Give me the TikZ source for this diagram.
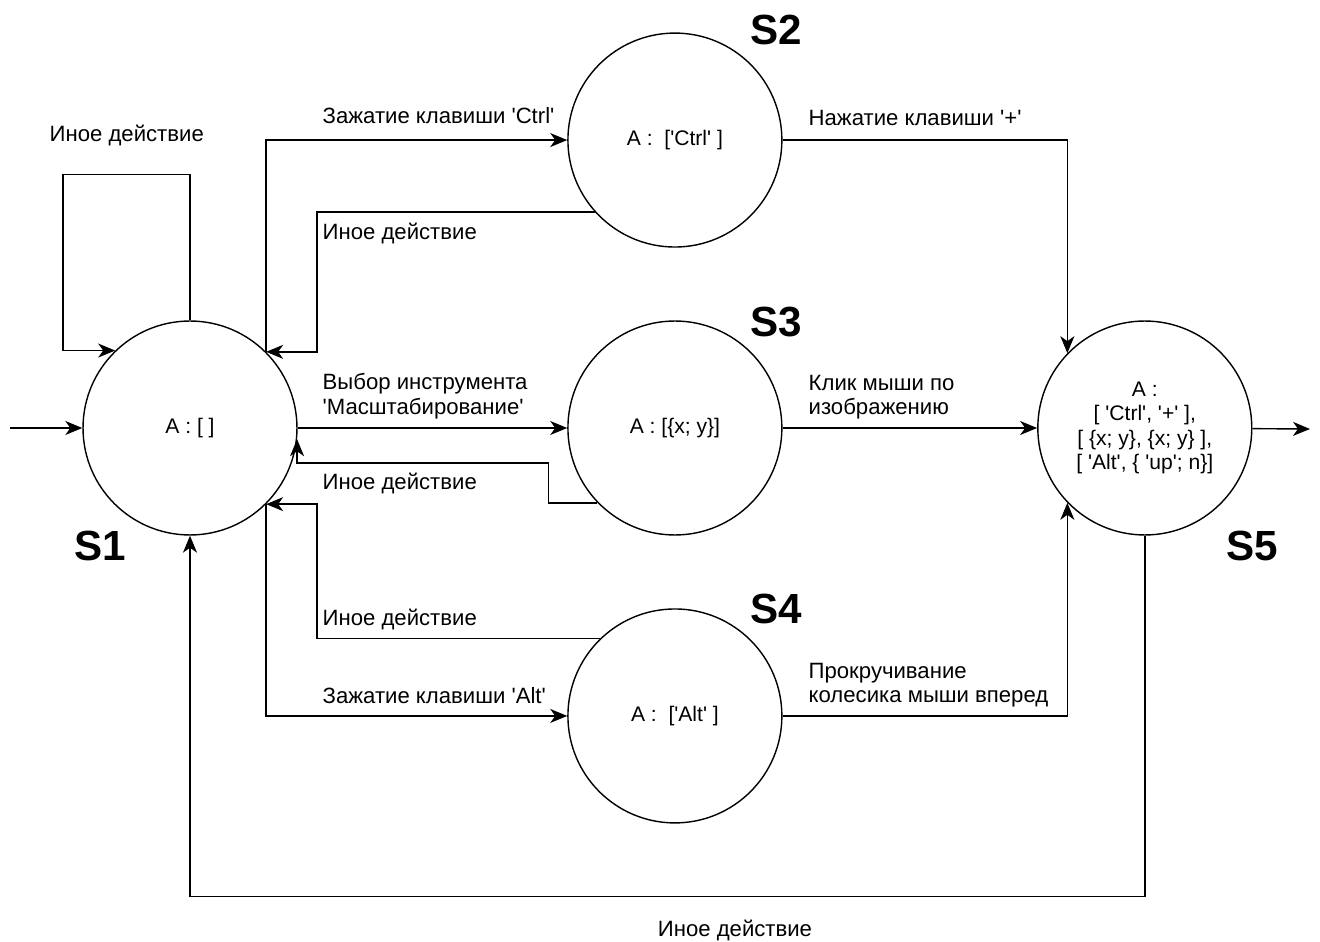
\documentclass[tikz,border=0pt]{standalone}
\usepackage{fontspec}
\setmainfont{Liberation Sans}[Ligatures=TeXOff]
\usetikzlibrary{arrows.meta,positioning}

\begin{document}
\begin{tikzpicture}[x=0.02cm, y=-0.02cm, line width=0.8pt, >={Stealth[length=3.4mm,width=2.8mm,inset=1mm]},
    state/.style={draw, circle, minimum size=4.28cm, inner sep=0pt, align=center, font=\fontsize{12}{14}\selectfont},
    lbl/.style={anchor=west, inner sep=0pt, align=left, font=\fontsize{12.6}{14}\selectfont},
    stname/.style={font=\fontsize{24}{28}\selectfont\bfseries}]
        \useasboundingbox (0,0) rectangle (1320,942);

        % States
        \node (S1) [state] at (190,428) {A : [ ]};
        \node (S3) [state, right of=S1, node distance=9.7cm] {A : [\{x; y\}]};
        \node (S2) [state, above of=S3, node distance=5.76cm] {A :\ \ ['Ctrl' ]};
        \node (S4) [state, below of=S3, node distance=5.76cm] {A :\ \ ['Alt' ]};
        \node (S5) [state, right of=S3, node distance=9.4cm] {A :\\{}[ 'Ctrl', '+' ],\\{}[ \{x; y\}, \{x; y\} ],\\{}[ 'Alt', \{ 'up'; n\}]};

        % State names
        \node (n1) [stname] at (100,546) {S1};
        \node (n2) [stname] at (776,30) {S2};
        \node (n3) [stname] at (776,322) {S3};
        \node (n4) [stname] at (776,609) {S4};
        \node (n5) [stname] at (1252,546) {S5};

        % Entry and exit
        \coordinate (in) at (10,428);
        \coordinate (out) at (1310,429);
        \draw[->] (in) -- (S1);
        \draw[->] (S5) -- (out);

        % Transitions
        \draw[->] (S1.north) |- ++(-127,-146) |- (S1.134);
        \draw[->] (S1.45) |- (S2.west);
        \draw[->] (S2.222) -- ++(-278,0) |- (S1.45);
        \draw[->] (S1) -- (S3);
        \draw[->] (S3.224) -- ++(-49,0) -- ++(0,-40) -| (S1.-6);
        \draw[->] (S1.-45) |- (S4.west);
        \draw[->] (S4.134) -- ++(-283,0) |- (S1.-45);
        \draw[->] (S2.east) -| (S5.136);
        \draw[->] (S3) -- (S5);
        \draw[->] (S4.east) -| (S5.-136);
        \draw[->] (S5.south) -- ++(0,361) -| (S1.south);

        % Labels
        \node (t1) [lbl] at (49,135) {Иное действие};
        \node (t2) [lbl] at (322,116) {Зажатие клавиши 'Ctrl'};
        \node (t3) [lbl] at (322,233) {Иное действие};
        \node (t4) [lbl] at (322,396) {Выбор инструмента\\'Масштабирование'};
        \node (t5) [lbl] at (322,483) {Иное действие};
        \node (t6) [lbl] at (322,619) {Иное действие};
        \node (t7) [lbl] at (322,696) {Зажатие клавиши 'Alt'};
        \node (t8) [lbl] at (808,118) {Нажатие клавиши '+'};
        \node (t9) [lbl] at (808,397) {Клик мыши по\\изображению};
        \node (t10) [lbl] at (808,685) {Прокручивание\\колесика мыши вперед};
        \node (t11) [lbl, anchor=center] at (735,930) {Иное действие};

    \end{tikzpicture}
\end{document}
